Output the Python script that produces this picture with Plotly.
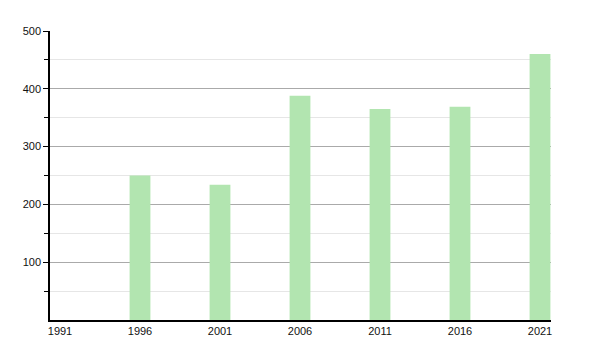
import plotly.graph_objects as go

years = [1991, 1996, 2001, 2006, 2011, 2016, 2021]
values = [0, 250, 234, 388, 365, 369, 460]
tick_labels = ["1991", "1996", "2001", "2006", "2011", "2016", "2021"]
y_ticks = [100, 200, 300, 400, 500]
y_minor = [50, 150, 250, 350, 450]

fig = go.Figure(go.Bar(
    x=years, y=values, width=1.3,
    marker=dict(color="#b2e5b0", line=dict(width=0)),
))

fig.update_layout(
    width=600, height=350,
    margin=dict(l=50, r=49, t=31, b=30),
    paper_bgcolor="white", plot_bgcolor="white",
    showlegend=False,
    font=dict(family="Liberation Sans, Arial, sans-serif", size=11, color="#111111"),
)
fig.update_xaxes(
    type="linear", range=[1990.375, 2021.6875],
    tickmode="array", tickvals=years, ticktext=tick_labels,
    showgrid=False, zeroline=False,
    showline=True, linecolor="black", linewidth=1.5,
    ticks="", tickfont=dict(size=11, color="#111111"),
)
fig.update_yaxes(
    range=[0, 500], tickmode="array", tickvals=y_ticks,
    showgrid=True, gridcolor="#aaaaaa", gridwidth=1,
    zeroline=False,
    showline=True, linecolor="black", linewidth=1.5,
    ticks="outside", ticklen=5, tickcolor="black",
    tickfont=dict(size=11, color="#111111"),
    minor=dict(tickmode="array", tickvals=y_minor, showgrid=True, gridcolor="#e6e6e6",
               ticks="outside", ticklen=4, tickcolor="black"),
)

fig.write_html("out.html")
